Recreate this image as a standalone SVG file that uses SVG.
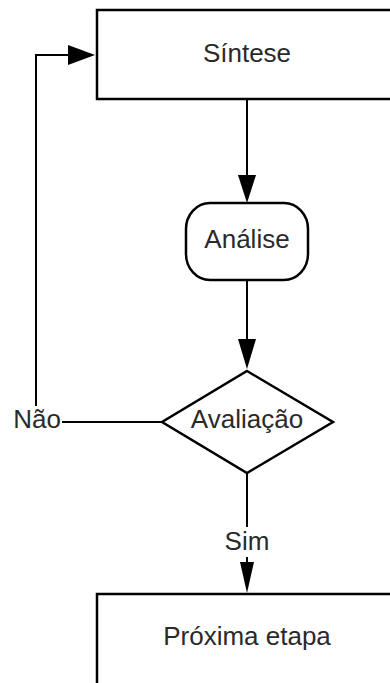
<svg xmlns="http://www.w3.org/2000/svg" width="390" height="683" viewBox="0 0 390 683">
  <style>
    .shape { fill: #ffffff; stroke: #000000; stroke-width: 2.5; }
    .line { fill: none; stroke: #000000; stroke-width: 2; }
    .head { fill: #000000; stroke: none; }
    .label { font-family: "Liberation Sans", Arial, sans-serif; font-size: 26px; fill: #2a2a2a; text-anchor: middle; }
  </style>
  <rect width="390" height="683" fill="#ffffff"/>

  <!-- flow connectors -->
  <g id="connectors">
    <!-- Síntese -> Análise -->
    <line class="line" x1="247" y1="99" x2="247" y2="177"/>
    <polygon class="head" points="238,175 256,175 247,203"/>
    <!-- Análise -> Avaliação -->
    <line class="line" x1="247" y1="280" x2="247" y2="341"/>
    <polygon class="head" points="238,339 256,339 247,369"/>
    <!-- Avaliação -> Próxima etapa (Sim) -->
    <line class="line" x1="247" y1="473" x2="247" y2="527"/>
    <text class="label" x="247" y="550">Sim</text>
    <line class="line" x1="247" y1="557" x2="247" y2="564"/>
    <polygon class="head" points="240,562 254,562 247,593"/>
    <!-- Avaliação -> Síntese (Não) -->
    <line class="line" x1="162" y1="422" x2="62" y2="422"/>
    <text class="label" x="37" y="428">Não</text>
    <polyline class="line" points="36,406 36,55 70,55"/>
    <polygon class="head" points="68,45 95,55 68,65"/>
  </g>

  <g id="sintese">
    <rect class="shape" x="97" y="10" width="310" height="89"/>
    <text class="label" x="247" y="62">Síntese</text>
  </g>

  <g id="analise">
    <rect class="shape" x="186" y="203" width="122" height="77" rx="24" ry="26"/>
    <text class="label" x="247" y="248">Análise</text>
  </g>

  <g id="avaliacao">
    <polygon class="shape" points="247,371 333,422 247,473 162,422"/>
    <text class="label" x="247" y="428">Avaliação</text>
  </g>

  <g id="proxima">
    <rect class="shape" x="97" y="594" width="310" height="100"/>
    <text class="label" x="247" y="645">Próxima etapa</text>
  </g>
</svg>
